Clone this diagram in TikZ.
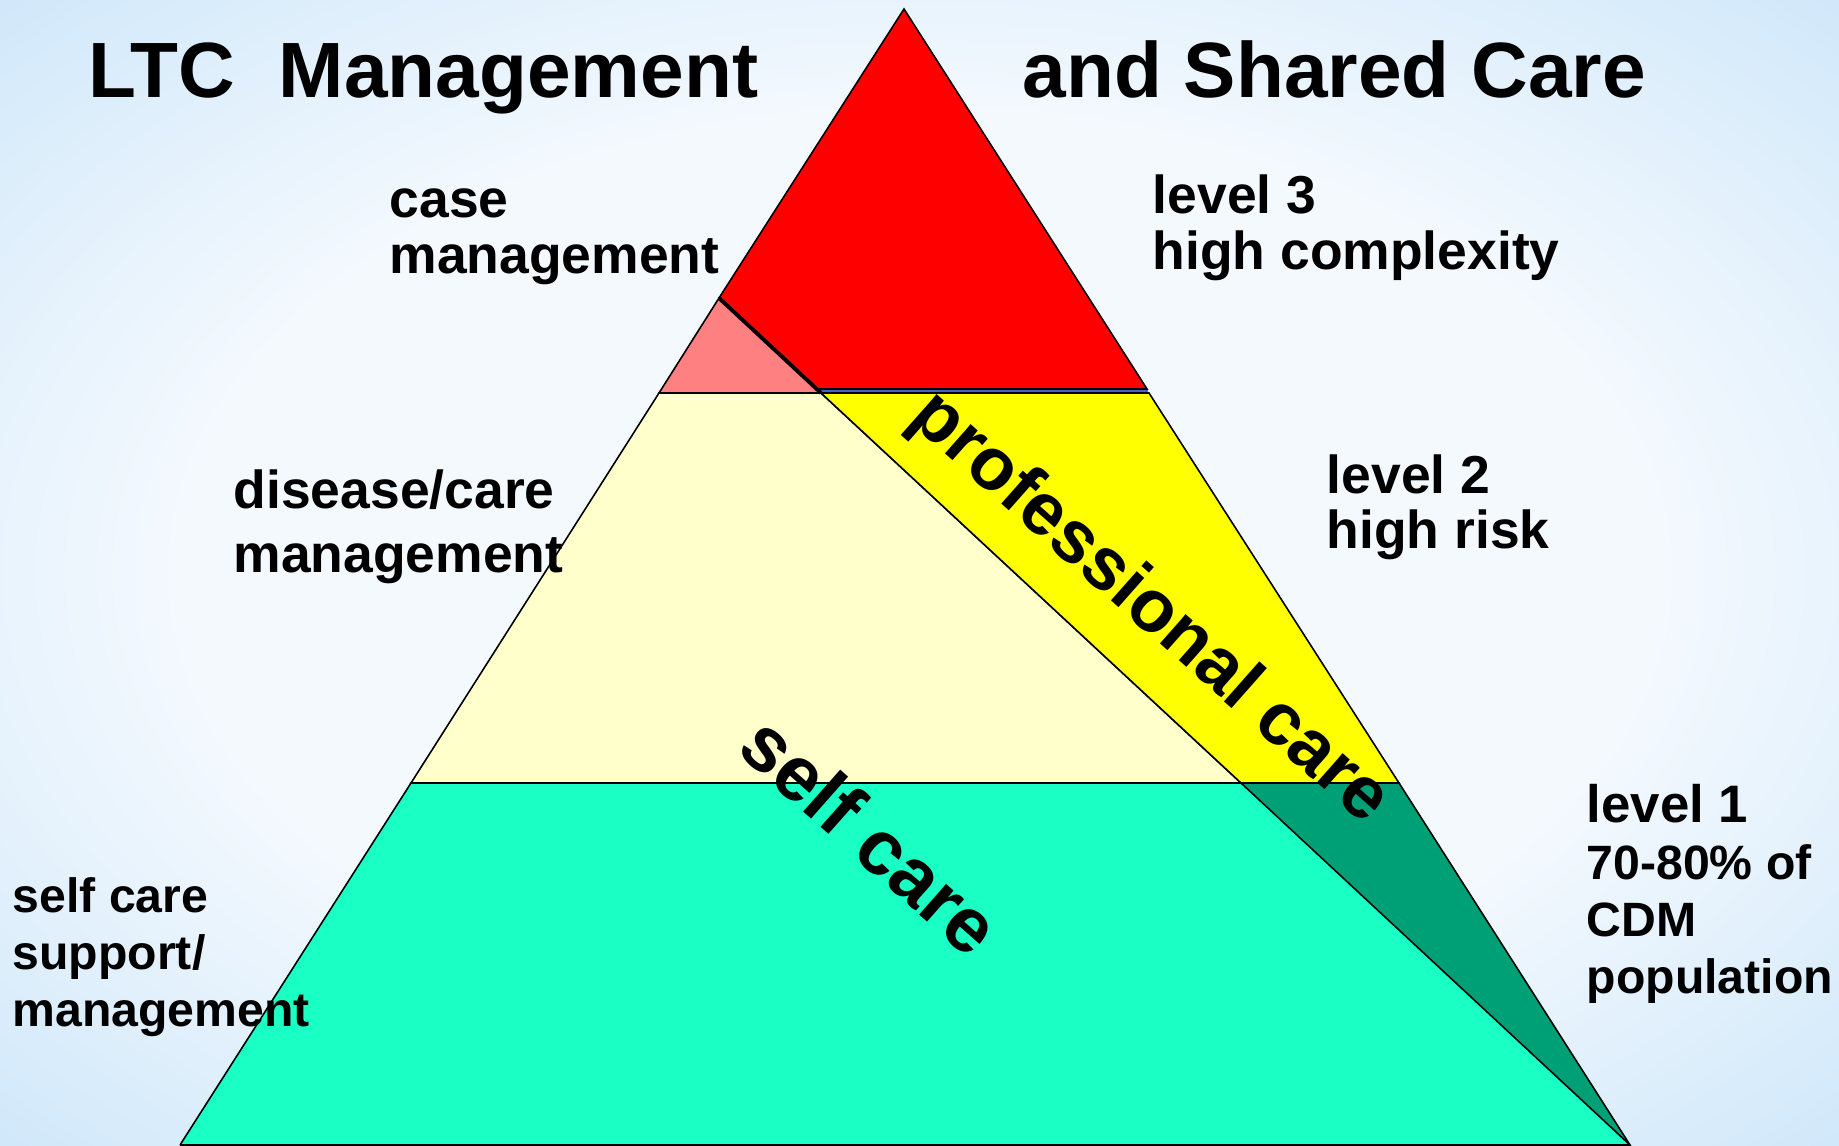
\documentclass[tikz,border=0pt]{standalone}
\usepackage{fontspec}
\setmainfont{Liberation Sans}
\definecolor{bgblue}{RGB}{184,220,247}
\definecolor{bgwhite}{RGB}{244,249,254}
\definecolor{tipred}{RGB}{255,0,0}
\definecolor{tippink}{RGB}{255,128,128}
\definecolor{midyellow}{RGB}{255,255,0}
\definecolor{midcream}{RGB}{255,255,204}
\definecolor{baseaqua}{RGB}{26,255,196}
\definecolor{basegreen}{RGB}{0,160,119}
\definecolor{seamblue}{RGB}{70,100,200}
\pgfdeclareradialshading{bgglow}{\pgfpoint{0bp}{0bp}}{%
  color(0bp)=(bgwhite); color(20bp)=(bgwhite); color(46bp)=(bgblue); color(50bp)=(bgblue)}
\begin{document}
\begin{tikzpicture}[x=0.01cm,y=-0.01cm,
  band/.style={draw=black,line width=0.45pt,line join=miter},
  title/.style={anchor=base west,inner sep=0pt,font=\fontsize{22.3}{24}\selectfont\bfseries},
  label/.style={anchor=base west,inner sep=0pt,align=left,font=\fontsize{15.2}{15.9}\selectfont\bfseries},
  smalllabel/.style={anchor=base west,inner sep=0pt,align=left,font=\fontsize{13.7}{16.2}\selectfont\bfseries},
  slanted/.style={inner sep=0pt,rotate=-41.5,font=\fontsize{22}{24}\selectfont\bfseries}]
\useasboundingbox (0,0) rectangle (1839,1145);
% backdrop
\shade[shading=bgglow] (0,0) rectangle (1839,1145);

% pyramid outline points
\coordinate (apex) at (904,9);
\coordinate (bl) at (180,1145);
\coordinate (br) at (1630,1145);
\coordinate (cut) at (719,298);
\coordinate (l3) at (659,393);
\coordinate (r3a) at (1147,389);
\coordinate (d3a) at (817,389);
\coordinate (d3) at (821,393);
\coordinate (r3) at (1149,393);
\coordinate (l2) at (411,783);
\coordinate (d2) at (1241,783);
\coordinate (r2) at (1399,783);
\coordinate (seamL) at (819,391);
\coordinate (seamR) at (1148,391);

% bands
\fill[baseaqua] (l2) -- (d2) -- (br) -- (bl) -- cycle;
\draw[band] (bl) -- (l2) -- (d2) (br) -- (bl);
\filldraw[band,fill=basegreen] (d2) -- (r2) -- (br) -- cycle;
\filldraw[band,fill=midcream] (l3) -- (d3) -- (d2) -- (l2) -- cycle;
\filldraw[band,fill=midyellow] (d3) -- (r3) -- (r2) -- (d2) -- cycle;
\filldraw[band,fill=tippink] (cut) -- (l3) -- (d3) -- cycle;
\filldraw[band,fill=tipred] (apex) -- (cut) -- (d3a) -- (r3a) -- cycle;
% seam between the two upper bands
\draw[seamblue,line width=0.7pt] (seamL) -- (seamR);
\draw[line width=1.1pt] (cut) -- (d3);

% titles
\node[title] (t1) at (88,97) {LTC~~Management};
\node[title] (t2) at (1022,97) {and Shared Care};

% left-hand labels (anchored on the baseline of their last line)
\node[label] (casem) at (389,273) {case\\management};
\node[label,font=\fontsize{15.2}{18.2}\selectfont\bfseries] (dism) at (233,572) {disease/care\\management};
\node[smalllabel] (selfm) at (12,1026) {self care\\support/\\management};

% right-hand labels
\node[label,font=\fontsize{15.2}{15.65}\selectfont\bfseries] (lvl3) at (1152,269) {level 3\\high complexity};
\node[label,font=\fontsize{15.2}{15.4}\selectfont\bfseries] (lvl2) at (1326,548) {level 2\\high risk};
\node[label,font=\fontsize{15}{16}\selectfont\bfseries] (lvl1) at (1586,822) {level 1};
\node[smalllabel] (lvl1n) at (1586,993) {70-80\% of\\CDM\\population};

% slanted labels
\node[slanted,font=\fontsize{21}{24}\selectfont\bfseries] (prof) at (1149,609) {professional care};
\node[slanted] (self) at (871,835) {self care};
\end{tikzpicture}
\end{document}
